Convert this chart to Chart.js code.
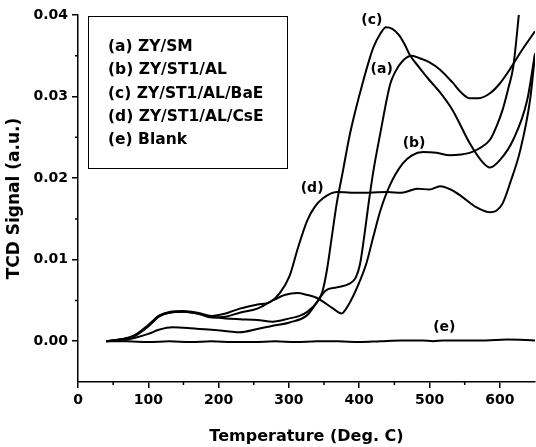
<!DOCTYPE html>
<html>
<head>
<meta charset="utf-8">
<script src="https://cdn.jsdelivr.net/npm/chart.js@4.4.1/dist/chart.umd.min.js"></script>
<style>
  html, body { margin: 0; padding: 0; background: #fff; }
  canvas { display: block; }
</style>
</head>
<body>
<canvas id="tpd" width="536" height="447"></canvas>
<script>
// ═══ TPD / TCD signal traces ═══

// (a) ZY/SM
const aTemp = [40, 60, 80, 100, 115, 135, 160, 190, 215, 230, 255, 277, 301, 326, 340, 352, 368, 387, 395, 401, 407, 413, 420, 430, 444, 451, 462, 475, 486, 500, 515, 533, 545, 557, 570, 586, 600, 614, 630, 650];
const aSig = [0, 0.0001, 0.0004, 0.0009, 0.0014, 0.0017, 0.0016, 0.0014, 0.0012, 0.0011, 0.0015, 0.0019, 0.0023, 0.0032, 0.0048, 0.0062, 0.0066, 0.0071, 0.0078, 0.0094, 0.0128, 0.0167, 0.0208, 0.0255, 0.0315, 0.0330, 0.0344, 0.0350, 0.0347, 0.0342, 0.0333, 0.0317, 0.0305, 0.0298, 0.0298, 0.0304, 0.0316, 0.0333, 0.0355, 0.0380];

// (b) ZY/ST1/AL
const bTemp = [40, 60, 80, 100, 115, 130, 150, 170, 190, 210, 230, 255, 277, 295, 312, 325, 340, 363, 375, 385, 397, 410, 420, 430, 444, 462, 475, 491, 510, 529, 545, 557, 570, 586, 596, 604, 612, 619, 627, 635];
const bSig = [0, 0.0002, 0.0006, 0.0018, 0.0030, 0.0035, 0.0036, 0.0034, 0.0029, 0.0030, 0.0035, 0.0040, 0.0050, 0.0057, 0.0059, 0.0057, 0.0053, 0.0040, 0.0034, 0.0045, 0.0066, 0.0095, 0.0128, 0.0160, 0.0192, 0.0218, 0.0228, 0.0232, 0.0231, 0.0228, 0.0229, 0.0231, 0.0236, 0.0247, 0.0265, 0.0284, 0.0310, 0.0336, 0.0400, 0.0470];

// (c) ZY/ST1/AL/BaE
const cTemp = [40, 60, 80, 100, 115, 130, 150, 170, 190, 210, 230, 255, 277, 301, 315, 326, 340, 348, 354, 361, 368, 376, 387, 405, 420, 430, 438, 447, 456, 464, 472, 486, 500, 515, 533, 557, 575, 586, 600, 619, 639, 650];
const cSig = [0, 0.0002, 0.0007, 0.0019, 0.0031, 0.0035, 0.0036, 0.0034, 0.0030, 0.0028, 0.0027, 0.0026, 0.0024, 0.0028, 0.0031, 0.0036, 0.0048, 0.0062, 0.0087, 0.0128, 0.0169, 0.0205, 0.0255, 0.0317, 0.0360, 0.0377, 0.0385, 0.0383, 0.0376, 0.0365, 0.0351, 0.0335, 0.0320, 0.0305, 0.0283, 0.0243, 0.0220, 0.0213, 0.0222, 0.0247, 0.0296, 0.0353];

// (d) ZY/ST1/AL/CsE
const dTemp = [40, 60, 80, 100, 115, 130, 150, 170, 190, 210, 230, 255, 273, 287, 301, 313, 326, 337, 348, 368, 400, 440, 460, 483, 500, 515, 530, 545, 567, 586, 595, 604, 615, 629, 643, 650];
const dSig = [0, 0.0002, 0.0007, 0.0020, 0.0031, 0.0036, 0.0037, 0.0035, 0.0031, 0.0034, 0.0040, 0.0045, 0.0048, 0.0059, 0.0080, 0.0115, 0.0148, 0.0165, 0.0175, 0.0183, 0.0182, 0.0183, 0.0182, 0.0187, 0.0186, 0.0190, 0.0186, 0.0178, 0.0164, 0.0158, 0.0160, 0.0169, 0.0195, 0.0234, 0.0296, 0.0351];

// (e) Blank
const eTemp = [40, 70, 100, 130, 160, 190, 220, 250, 280, 310, 340, 370, 400, 430, 460, 490, 505, 520, 550, 580, 610, 650];
const eSig = [0, 0, -0.0001, 0, -0.0001, 0, -0.0001, -0.0001, 0, -0.0001, 0, 0, -0.0001, 0, 0.0001, 0.0001, 0, 0.0001, 0.0001, 0.0001, 0.0002, 0.0001];

const legendNames = ["(a) ZY/SM", "(b) ZY/ST1/AL", "(c) ZY/ST1/AL/BaE", "(d) ZY/ST1/AL/CsE", "(e) Blank"];

// curve tags, placed in data units
const tagText = ["(a)", "(b)", "(c)", "(d)", "(e)"];
const tagTemp = [432, 478, 418, 333, 521];
const tagSig = [0.0333, 0.0243, 0.0394, 0.0187, 0.0017];

const xMajor = [0, 100, 200, 300, 400, 500, 600];
const xMinor = [50, 150, 250, 350, 450, 550];
const yMajor = [0, 0.01, 0.02, 0.03, 0.04];
const yMinor = [0.005, 0.015, 0.025, 0.035];

const FONT = "'DejaVu Sans', sans-serif";

const toPts = (xs, ys) => xs.map((t, i) => ({ x: t, y: ys[i] }));

const lineStyle = {
  borderColor: "#000",
  borderWidth: 2,
  pointRadius: 0,
  fill: false,
  cubicInterpolationMode: "monotone",
};

const minorTicks = {
  id: "minorTicks",
  afterDraw(chart) {
    const { ctx, chartArea, scales: { x, y } } = chart;
    ctx.save();
    ctx.strokeStyle = "#000";
    ctx.lineWidth = 1.5;
    ctx.beginPath();
    xMinor.forEach((v) => {
      const px = x.getPixelForValue(v);
      ctx.moveTo(px, chartArea.bottom);
      ctx.lineTo(px, chartArea.bottom + 3);
    });
    yMinor.forEach((v) => {
      const py = y.getPixelForValue(v);
      ctx.moveTo(chartArea.left, py);
      ctx.lineTo(chartArea.left - 3, py);
    });
    ctx.stroke();
    ctx.restore();
  },
};

const labelsAndKey = {
  id: "labelsAndKey",
  afterDraw(chart) {
    const { ctx, chartArea, scales: { x, y } } = chart;
    ctx.save();
    ctx.fillStyle = "#000";

    // tags next to curves
    ctx.font = `bold 14px ${FONT}`;
    ctx.textAlign = "center";
    ctx.textBaseline = "middle";
    tagText.forEach((t, i) => {
      ctx.fillText(t, x.getPixelForValue(tagTemp[i]), y.getPixelForValue(tagSig[i]));
    });

    // boxed key
    const bx = chartArea.left + 10, by = chartArea.top + 1;
    ctx.strokeStyle = "#000";
    ctx.lineWidth = 1;
    ctx.strokeRect(bx + 0.5, by + 0.5, 199, 152);
    ctx.font = `bold 15.5px ${FONT}`;
    ctx.textAlign = "left";
    legendNames.forEach((n, i) => {
      ctx.fillText(n, bx + 20, by + 31 + i * 23.3);
    });
    ctx.restore();
  },
};

new Chart(document.getElementById("tpd"), {
  type: "line",
  data: {
    datasets: [
      { ...lineStyle, label: legendNames[0], data: toPts(aTemp, aSig) },
      { ...lineStyle, label: legendNames[1], data: toPts(bTemp, bSig) },
      { ...lineStyle, label: legendNames[2], data: toPts(cTemp, cSig) },
      { ...lineStyle, label: legendNames[3], data: toPts(dTemp, dSig) },
      { ...lineStyle, label: legendNames[4], data: toPts(eTemp, eSig) },
    ],
  },
  options: {
    responsive: false,
    animation: false,
    layout: { padding: { top: 15, right: 1, left: 0, bottom: 0 } },
    plugins: { legend: { display: false }, tooltip: { enabled: false } },
    scales: {
      x: {
        type: "linear",
        min: 0,
        max: 650,
        afterBuildTicks: (s) => { s.ticks = xMajor.map((v) => ({ value: v })); },
        afterFit: (s) => { s.height = 65; },
        ticks: { color: "#000", padding: 4, maxRotation: 0, font: { family: FONT, size: 14, weight: "bold" } },
        grid: { drawOnChartArea: false, drawTicks: true, tickLength: 6, color: "#000", lineWidth: 1.5 },
        border: { color: "#000", width: 1.5 },
        title: { display: true, text: "Temperature (Deg. C)", color: "#000", padding: { top: 0, bottom: 1 }, font: { family: FONT, size: 16, weight: "bold" } },
      },
      y: {
        type: "linear",
        min: -0.005,
        max: 0.04,
        afterBuildTicks: (s) => { s.ticks = yMajor.map((v) => ({ value: v })); },
        afterFit: (s) => { s.width = 78; },
        ticks: { color: "#000", padding: 4, callback: (v) => v.toFixed(2), font: { family: FONT, size: 14, weight: "bold" } },
        grid: { drawOnChartArea: false, drawTicks: true, tickLength: 6, color: "#000", lineWidth: 1.5 },
        border: { color: "#000", width: 1.5 },
        title: { display: true, text: "TCD Signal (a.u.)", color: "#000", padding: { top: 4, bottom: 0 }, font: { family: FONT, size: 17, weight: "bold" } },
      },
    },
  },
  plugins: [minorTicks, labelsAndKey],
});
</script>
</body>
</html>
